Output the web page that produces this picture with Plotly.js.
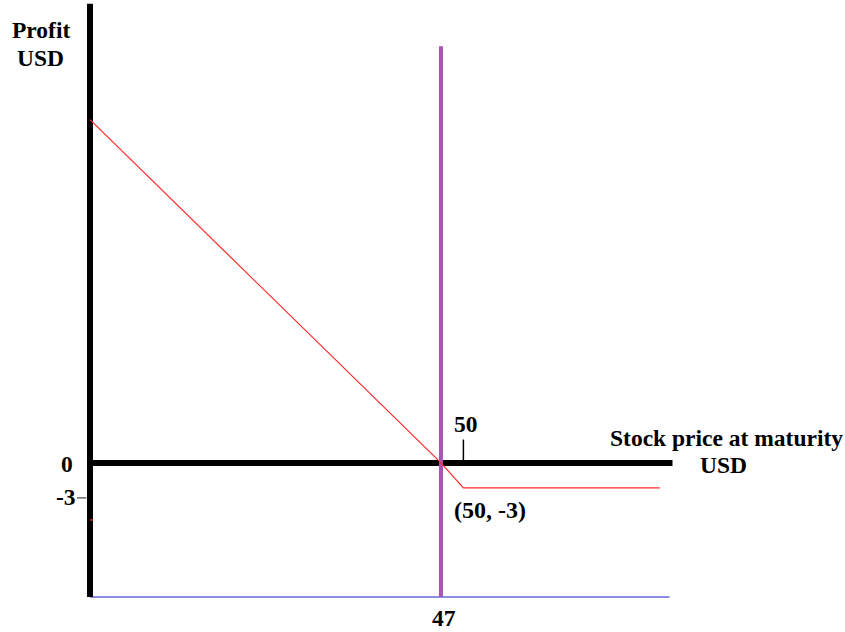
<!DOCTYPE html>
<html>
<head>
<meta charset="utf-8">
<script src="https://cdn.plot.ly/plotly-3.0.1.min.js"></script>
<style>
  html, body { margin: 0; padding: 0; background: #fff; }
  #plot { width: 845px; height: 632px; }
</style>
</head>
<body>
<div id="plot"></div>
<script>
// Long put payoff sketch: strike 50, premium 3, breakeven 47

// profit line (red)
let profitX = [0, 47, 50, 76.3];
let profitY = [41.2, 0, -3, -3];

// hand-drawn axes
let yAxisX = [0, 0];
let yAxisY = [-16.1, 55.1];
let xAxisX = [0, 78];
let xAxisY = [0, 0];

// breakeven marker (purple) and baseline (blue)
let breakevenX = [47, 47];
let breakevenY = [50, -16.1];
let baseX = [0, 77.6];
let baseY = [-16.1, -16.1];

// small ticks
let strikeTickX = [50, 50];
let strikeTickY = [0, 2.8];
let premTickX = [-1.74, -0.5];
let premTickY = [-4.2, -4.2];
let strayX = [0, 0.4];
let strayY = [-6.85, -6.85];

let serif = "Liberation Serif, Times New Roman, serif";

function seg(x, y, color, width) {
  return {x: x, y: y, type: "scatter", mode: "lines",
          line: {color: color, width: width}, hoverinfo: "skip", showlegend: false};
}

let traces = [
  seg(baseX, baseY, "rgb(140,140,225)", 2),
  seg(xAxisX, xAxisY, "#000", 6),
  seg(yAxisX, yAxisY, "#000", 6),
  seg(strayX, strayY, "rgb(220,40,40)", 1.5),
  seg(breakevenX, breakevenY, "rgb(170,85,180)", 4),
  seg(profitX, profitY, "rgb(255,40,40)", 1.2),
  seg(strikeTickX, strikeTickY, "#000", 1.5),
  seg(premTickX, premTickY, "#666", 1.5)
];

function label(x, y, text, size) {
  return {x: x, y: y, xref: "x", yref: "y", text: text, showarrow: false,
          xanchor: "center", yanchor: "middle",
          font: {family: serif, size: size || 23.5, color: "#000", weight: "bold"}};
}

let layout = {
  width: 845,
  height: 632,
  margin: {l: 0, r: 0, t: 0, b: 0},
  paper_bgcolor: "#fff",
  plot_bgcolor: "#fff",
  showlegend: false,
  xaxis: {range: [-12.05, 101.1], visible: false, fixedrange: true},
  yaxis: {range: [-20.3, 55.56], visible: false, fixedrange: true},
  annotations: [
    label(-6.56, 51.96, "Profit"),
    label(-6.6, 48.6, "USD"),
    label(-3.08, -0.1, "0"),
    label(-3.2, -4.1, "-3"),
    label(50.4, 4.62, "50"),
    label(53.6, -5.64, "(50, -3)", 24),
    label(47.4, -18.6, "47"),
    label(85.2, 3.0, "Stock price at maturity"),
    label(84.8, -0.24, "USD")
  ]
};

Plotly.newPlot("plot", traces, layout, {displayModeBar: false, staticPlot: true});
</script>
</body>
</html>
